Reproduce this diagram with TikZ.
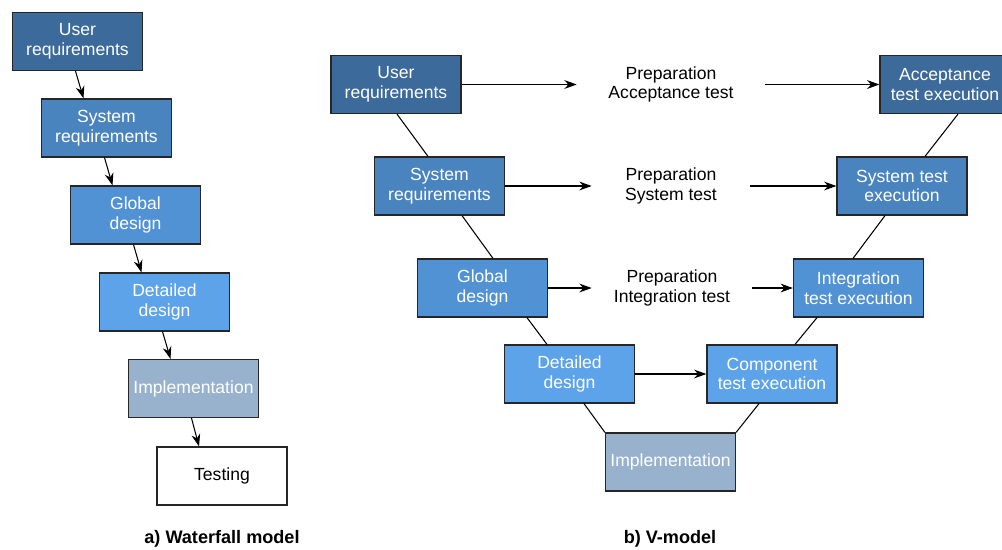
\documentclass[tikz,border=0pt]{standalone}
\usepackage{fontspec}
\setmainfont{Liberation Sans}
\usetikzlibrary{arrows.meta}

\definecolor{lvla}{HTML}{3C6A9A}
\definecolor{lvlb}{HTML}{4A84BF}
\definecolor{lvlc}{HTML}{5192D4}
\definecolor{lvld}{HTML}{5DA3E9}
\definecolor{impl}{HTML}{98B2CE}

\begin{document}
\begin{tikzpicture}[x=0.02cm,y=-0.02cm,
    phase/.style={draw=black!85,line width=0.7pt,text=white,align=center,
      minimum width=2.6cm,minimum height=1.16cm,inner sep=1pt,
      font=\fontsize{10}{11.3}\selectfont},
    prep/.style={align=center,minimum width=3.16cm,inner sep=0pt,
      font=\fontsize{10}{11.3}\selectfont},
    caption/.style={font=\fontsize{10.3}{12}\selectfont\bfseries},
    flow/.style={line width=0.6pt,-{Stealth[length=7pt,width=5pt]}},
    link/.style={line width=0.6pt}]
    \useasboundingbox (0,0) rectangle (1002,549);

    % waterfall
    \node[phase,fill=lvla] (wfuser) at (77.5,41.5) {User\\requirements};
    \node[phase,fill=lvlb] (wfsys) at (106.5,128) {System\\requirements};
    \node[phase,fill=lvlc] (wfglob) at (135.5,215) {Global\\design};
    \node[phase,fill=lvld] (wfdet) at (164.5,302) {Detailed\\design};
    \node[phase,fill=impl] (wfimpl) at (193.5,388.5) {Implementation};
    \node[phase,fill=white,text=black] (wftest) at (222,476) {Testing};
    \draw[flow] ([xshift=-0.04cm]wfuser.south) -- ([xshift=-0.46cm]wfsys.north);
    \draw[flow] ([xshift=-0.04cm]wfsys.south) -- ([xshift=-0.46cm]wfglob.north);
    \draw[flow] ([xshift=-0.04cm]wfglob.south) -- ([xshift=-0.46cm]wfdet.north);
    \draw[flow] ([xshift=-0.04cm]wfdet.south) -- ([xshift=-0.46cm]wfimpl.north);
    \draw[flow] ([xshift=-0.04cm]wfimpl.south) -- ([xshift=-0.46cm]wftest.north);
    \node[caption] (capa) at (222,539) {a) Waterfall model};

    % V-model
    \node[phase,fill=lvla] (vuser) at (396,84.5) {User\\requirements};
    \node[phase,fill=lvlb] (vsys) at (439.5,186) {System\\requirements};
    \node[phase,fill=lvlc] (vglob) at (482.5,288) {Global\\design};
    \node[phase,fill=lvld] (vdet) at (569.5,374) {Detailed\\design};
    \node[phase,fill=impl] (vimpl) at (670.5,462) {Implementation};
    \node[phase,fill=lvld] (vcomp) at (772,374) {Component\\test execution};
    \node[phase,fill=lvlc] (vint) at (858.5,288) {Integration\\test execution};
    \node[phase,fill=lvlb] (vsyst) at (902,186) {System test\\execution};
    \node[phase,fill=lvla] (vacc) at (945,84.5) {Acceptance\\test execution};

    \node[prep,minimum width=3.76cm] (pacc) at (671,84.5) {Preparation\\Acceptance test};
    \node[prep] (psys) at (671,186) {Preparation\\System test};
    \node[prep,minimum width=3.2cm] (pint) at (672,288) {Preparation\\Integration test};

    \draw[link] ([xshift=0.02cm]vuser.south) -- ([xshift=-0.23cm]vsys.north);
    \draw[link] ([xshift=0.45cm]vsys.south) -- ([xshift=0.21cm]vglob.north);
    \draw[link] ([xshift=0.89cm]vglob.south) -- ([xshift=-0.45cm]vdet.north);
    \draw[link] ([xshift=0.29cm]vdet.south) -- (vimpl.north west);
    \draw[link] (vimpl.north east) -- ([xshift=-0.26cm]vcomp.south);
    \draw[link] ([xshift=0.46cm]vcomp.north) -- ([xshift=-0.83cm]vint.south);
    \draw[link] ([xshift=-0.11cm]vint.north) -- ([xshift=-0.34cm]vsyst.south);
    \draw[link] ([xshift=0.46cm]vsyst.north) -- ([xshift=0.26cm]vacc.south);

    \draw[flow] (vuser) -- (pacc);
    \draw[flow] (pacc) -- (vacc);
    \draw[flow] (vsys) -- (psys);
    \draw[flow] (psys) -- (vsyst);
    \draw[flow] (vglob) -- (pint);
    \draw[flow] (pint) -- (vint);
    \draw[flow] (vdet) -- (vcomp);
    \node[caption] (capb) at (670,539) {b) V-model};
\end{tikzpicture}
\end{document}
